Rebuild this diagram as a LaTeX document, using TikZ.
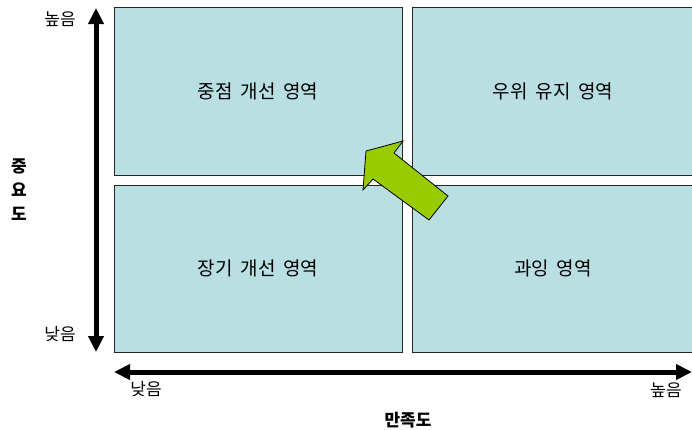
\documentclass[tikz,border=0pt]{standalone}
\usepackage{fontspec}
\setmainfont{Noto Sans CJK KR}[WordSpace=1.8]
\usetikzlibrary{arrows.meta, positioning}
\definecolor{quadblue}{RGB}{185, 223, 226}
\definecolor{arrowgreen}{RGB}{153, 204, 0}

\begin{document}
\begin{tikzpicture}[x=1pt, y=-1pt,
  quad/.style={draw=black!85, fill=quadblue, line width=0.9pt, font=\fontsize{19}{22}\selectfont},
  axis/.style={line width=5pt, {Triangle[length=16pt, width=15pt]}-{Triangle[length=16pt, width=15pt]}},
  tick/.style={font=\fontsize{17}{19}\selectfont, inner sep=0pt},
  axtitle/.style={font=\fontsize{17}{24}\selectfont\bfseries, align=center, inner sep=0pt},
]
  \useasboundingbox (0,0) rectangle (692,429);
  % quadrants
  \node[quad, minimum width=288pt, minimum height=168pt] (imp) at (258, 91) {중점 개선 영역};
  \node[quad, minimum width=282pt, minimum height=168pt] (keep) at (553, 91) {우위 유지 영역};
  \node[quad, minimum width=288pt, minimum height=167pt] (long) at (258, 268.5) {장기 개선 영역};
  \node[quad, minimum width=282pt, minimum height=167pt] (over) at (553, 268.5) {과잉 영역};
  % axes
  \coordinate (ytop) at (96, 8);
  \coordinate (ybot) at (96, 352);
  \coordinate (xlo) at (114, 372);
  \coordinate (xhi) at (692, 372);
  \draw[axis] (ybot) -- (ytop);
  \draw[axis] (xlo) -- (xhi);
  \node[tick] (yhigh) at (60, 19) {높음};
  \node[tick] (ylow) at (60, 334) {낮음};
  \node[tick] (xlow) at (146, 389) {낮음};
  \node[tick] (xhigh) at (666, 390) {높음};
  \node[axtitle] (ytitle) at (19, 190) {중\\요\\도};
  \node[axtitle] (xtitle) at (408, 420) {만족도};
  % improvement arrow
  \draw[fill=arrowgreen, line width=0.8pt, line join=miter]
    (363, 190) -- (366, 151) -- (403, 141) -- (394, 153) -- (448, 196)
    -- (429, 220) -- (373, 179) -- cycle;
\end{tikzpicture}
\end{document}
